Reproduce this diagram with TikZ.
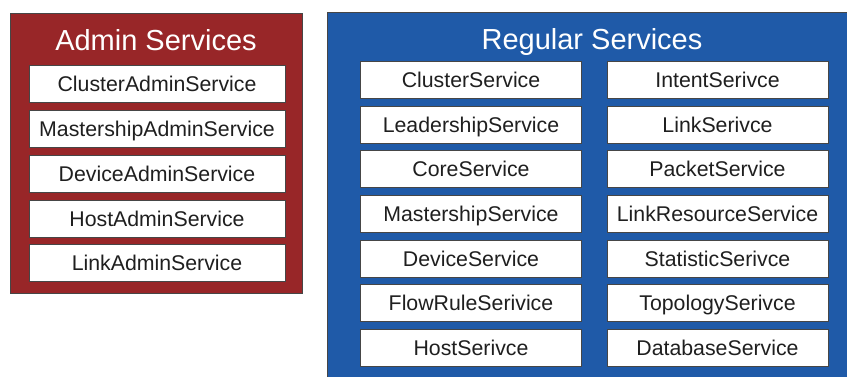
\documentclass[tikz,border=0pt]{standalone}
\usepackage{fontspec}
\setmainfont{Liberation Sans}
\definecolor{adminred}{RGB}{152,38,40}
\definecolor{regblue}{RGB}{31,90,168}
\definecolor{frame}{RGB}{70,70,70}
\begin{document}
\begin{tikzpicture}[x=1pt,y=-1pt,
  panel/.style={draw=frame, line width=0.8pt, inner sep=0pt},
  paneltitle/.style={text=white, inner sep=0pt, text height=20.8pt, text depth=0.2pt,
    font=\fontsize{29}{32}\selectfont},
  svc/.style={draw=frame, fill=white, line width=0.9pt, inner sep=0pt,
    text height=15.4pt, text depth=0.2pt,
    minimum height=37pt, text=black!88, font=\fontsize{21.3}{24}\selectfont},
  adminsvc/.style={svc, minimum width=256pt},
  regsvc/.style={svc, minimum width=221pt}]
\useasboundingbox (0,0) rectangle (847,376);
\clip (0,0) rectangle (847,376);

% containers
\node[panel, fill=adminred, minimum width=292pt, minimum height=280pt] (admin) at (156,153) {};
\node[panel, fill=regblue, minimum width=534pt, minimum height=380pt] (regular) at (594,202) {};
\node[paneltitle] (admintitle) at (156,40) {Admin Services};
\node[paneltitle] (regtitle) at (592,39) {Regular Services};

% admin services
\node[adminsvc] (a1) at (157,84)  {ClusterAdminService};
\node[adminsvc] (a2) at (157,129) {MastershipAdminService};
\node[adminsvc] (a3) at (157,174) {DeviceAdminService};
\node[adminsvc] (a4) at (157,218.5) {HostAdminService};
\node[adminsvc] (a5) at (157,263) {LinkAdminService};

% regular services, left column
\node[regsvc] (l1) at (471,80)    {ClusterService};
\node[regsvc] (l2) at (471,125)   {LeadershipService};
\node[regsvc] (l3) at (471,169)   {CoreService};
\node[regsvc] (l4) at (471,214)   {MastershipService};
\node[regsvc] (l5) at (471,258.5) {DeviceService};
\node[regsvc] (l6) at (471,303)   {FlowRuleSerivice};
\node[regsvc] (l7) at (471,348)   {HostSerivce};

% regular services, right column
\node[regsvc] (r1) at (717.5,80)    {IntentSerivce};
\node[regsvc] (r2) at (717.5,125)   {LinkSerivce};
\node[regsvc] (r3) at (717.5,169)   {PacketService};
\node[regsvc] (r4) at (717.5,214)   {LinkResourceService};
\node[regsvc] (r5) at (717.5,258.5) {StatisticSerivce};
\node[regsvc] (r6) at (717.5,303)   {TopologySerivce};
\node[regsvc] (r7) at (717.5,348)   {DatabaseService};
\end{tikzpicture}
\end{document}
